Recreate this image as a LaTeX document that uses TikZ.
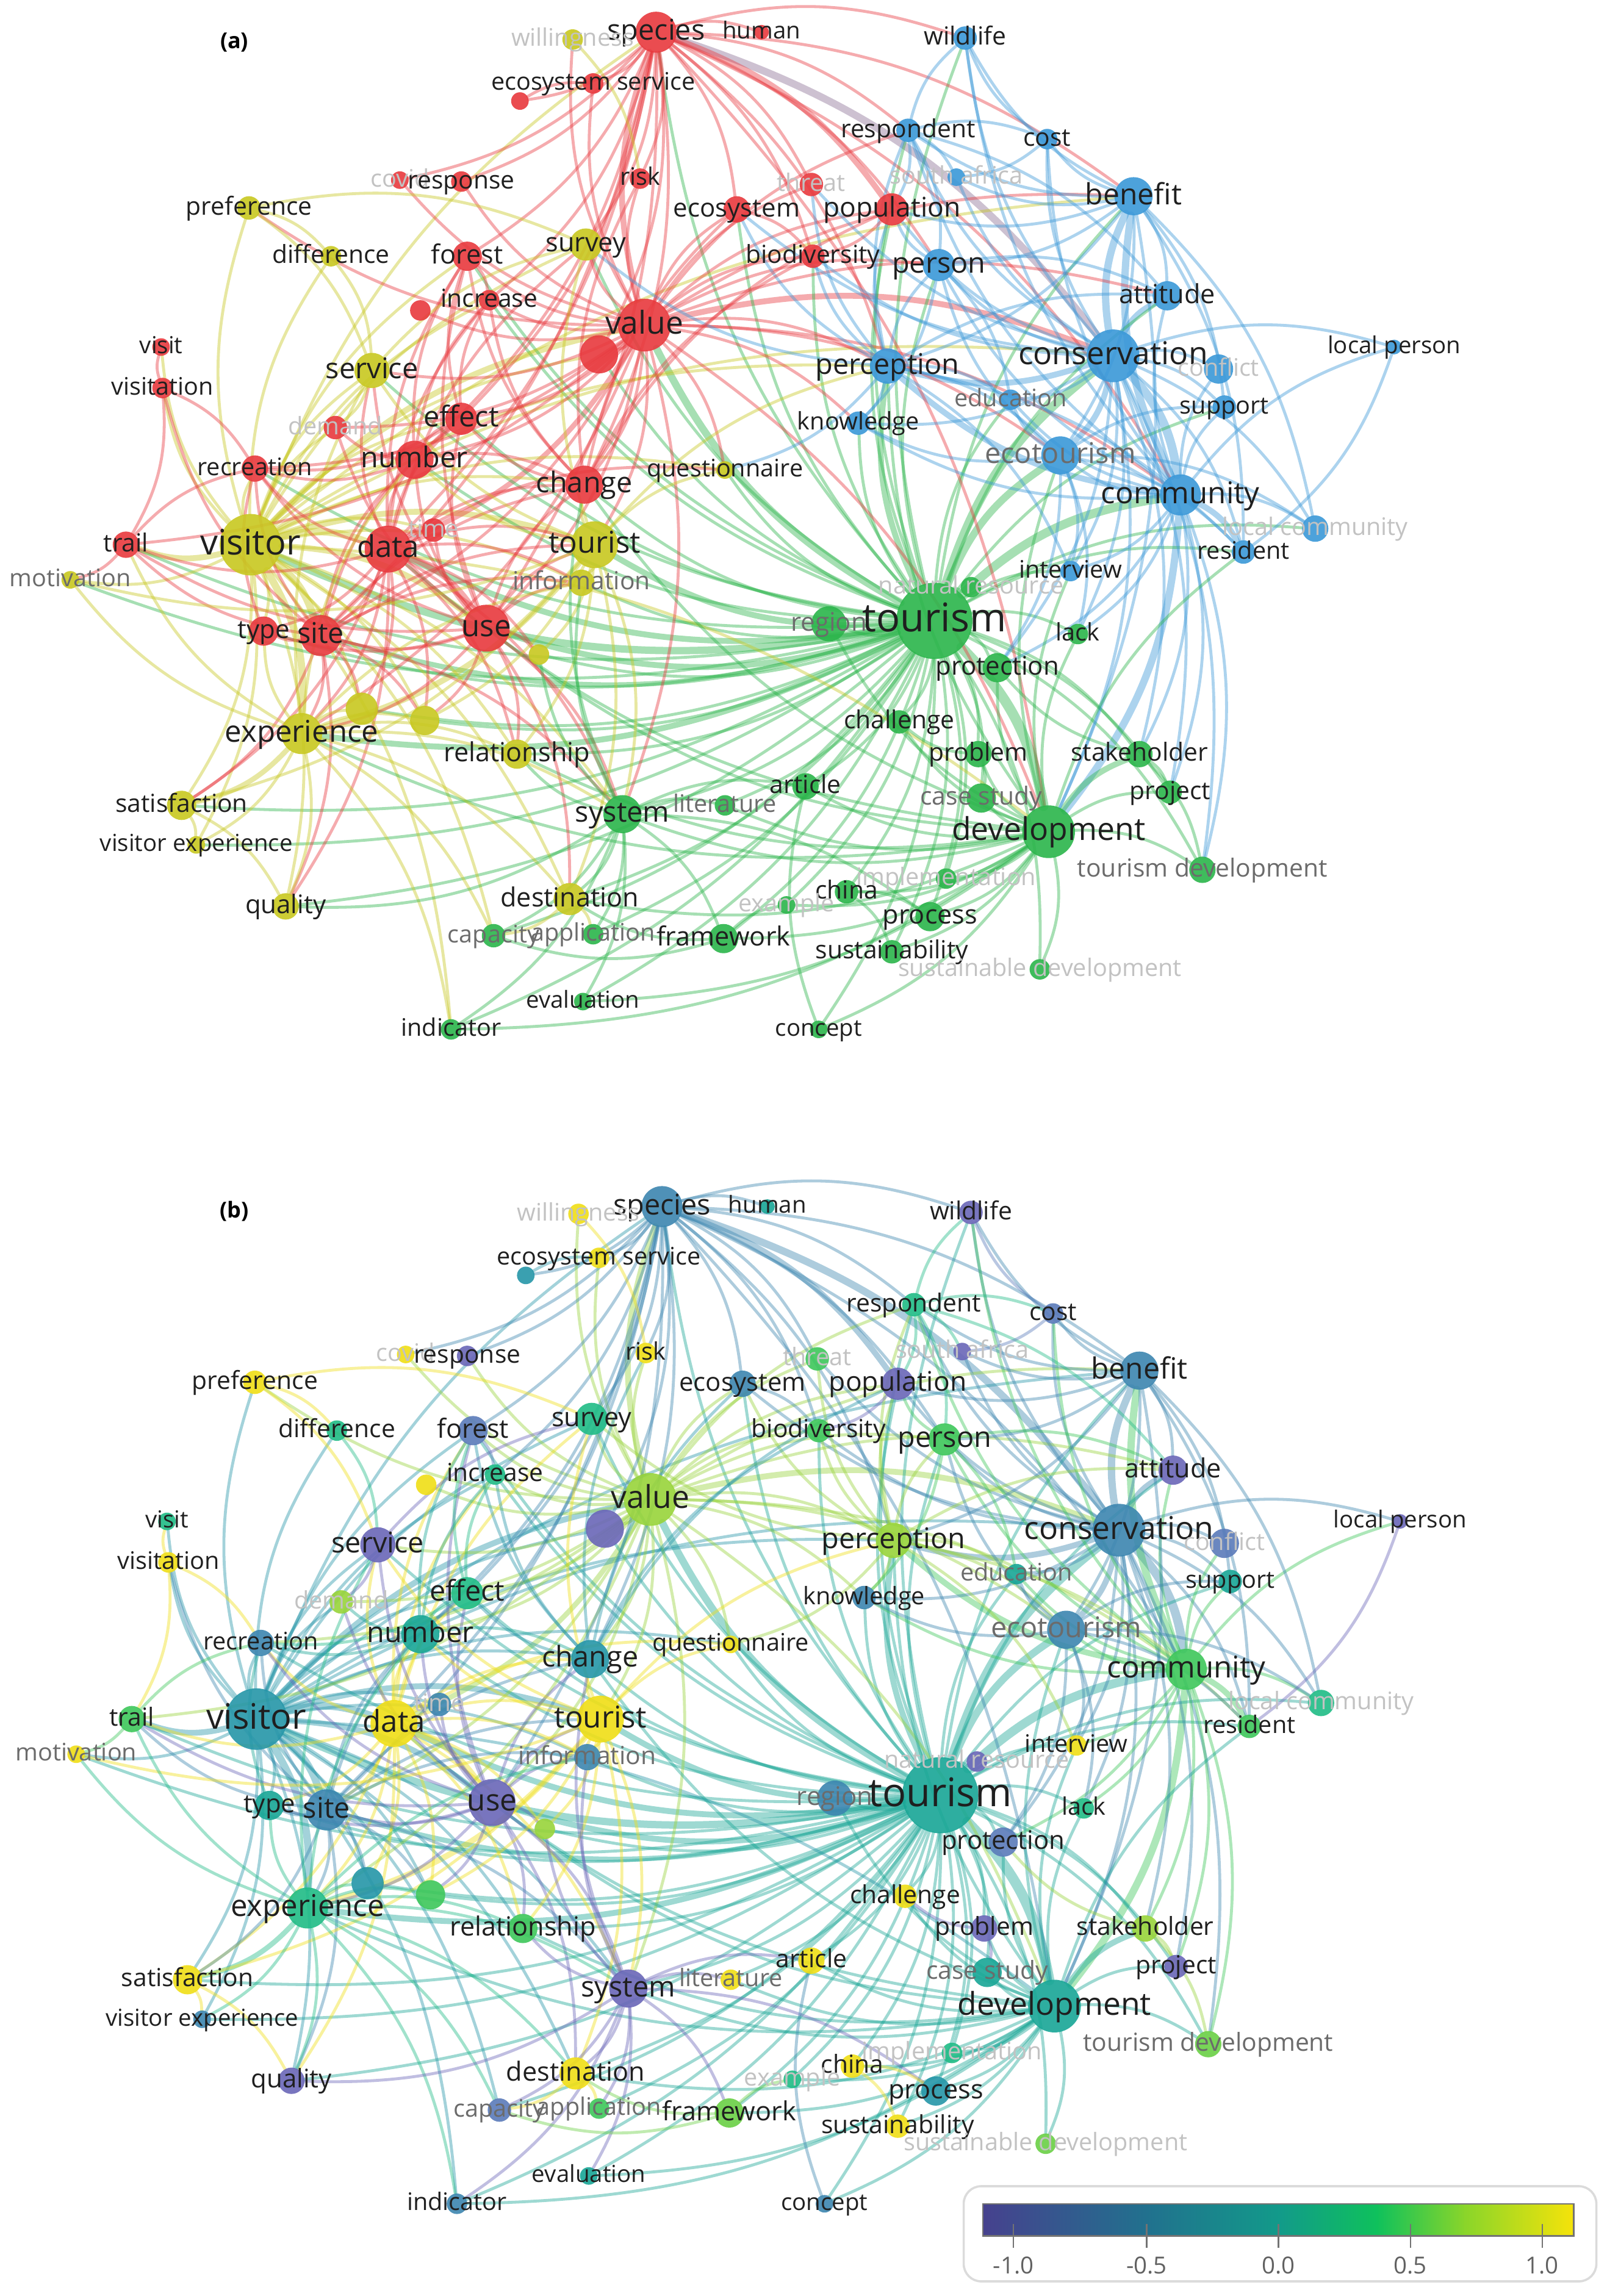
\documentclass[tikz,border=0pt]{standalone}
\usepackage{fontspec}
\setmainfont{Open Sans}
\definecolor{cR}{HTML}{E8393E}
\definecolor{cG}{HTML}{2BB54B}
\definecolor{cBl}{HTML}{3A98D8}
\definecolor{cY}{HTML}{C8C820}
\definecolor{vP}{HTML}{6A66B8}
\definecolor{vPB}{HTML}{5A7BBA}
\definecolor{vB}{HTML}{3C86B0}
\definecolor{vTB}{HTML}{2596A8}
\definecolor{vT}{HTML}{18A696}
\definecolor{vTG}{HTML}{20BC86}
\definecolor{vG}{HTML}{3DC75A}
\definecolor{vLG}{HTML}{6AD045}
\definecolor{vYG}{HTML}{98D43A}
\definecolor{vY}{HTML}{F0DE16}
\definecolor{lg1}{HTML}{46418E}
\definecolor{lg2}{HTML}{21718E}
\definecolor{lg3}{HTML}{129A8A}
\definecolor{lg4}{HTML}{0FC15C}
\definecolor{lg5}{HTML}{8AD52A}
\definecolor{lg6}{HTML}{F5E30A}
\tikzset{
 lnk/.style={line width=2, opacity=.42, line cap=round, bend left=17},
 lbl/.style={inner sep=0pt, anchor=base},
 anc/.style={circle, inner sep=0pt, outer sep=0pt},
}
% id/x/y/r/colour(a)/colour(b)/label/size/grey
\def\NL{%
species/448/22/14/cR/vB/species/19.5/0,%
human/520/22/5/cR/vT/human/16/0,%
willingness/391/27/7/cY/vY/willingness/16.5/2,%
ecoserv/405/57/7/cR/vY/ecosystem service/16.5/0,%
u355/355/69/6/cR/vTB/{}/16/0,%
wildlife/659/26/8/cBl/vP/wildlife/17/0,%
respondent/620/89/8/cBl/vTG/respondent/17/0,%
cost/715/95/7/cBl/vPB/cost/17/0,%
covid/273/123/6/cR/vY/covid/16.5/2,%
response/315/124/7/cR/vP/response/17/0,%
risk/437/122/7/cR/vY/risk/16.5/0,%
threat/554/126/8/cR/vG/threat/16.5/2,%
southafrica/653/121/6/cBl/vP/south africa/16.5/2,%
benefit/774/134/13/cBl/vB/benefit/20/0,%
preference/170/142/8/cY/vY/preference/17/0,%
ecosystem/503/143/9/cR/vB/ecosystem/17.5/0,%
population/609/143/11/cR/vP/population/18.5/0,%
survey/400/167/11/cY/vTG/survey/18/0,%
difference/226/175/7/cY/vTG/difference/17/0,%
forest/319/175/10/cR/vPB/forest/18/0,%
biodiversity/555/175/8/cR/vG/biodiversity/17/0,%
person/641/181/11/cBl/vG/person/19.5/0,%
attitude/797/202/10/cBl/vP/attitude/18/0,%
increase/334/205/7/cR/vTG/increase/17/0,%
u287/287/212/7/cR/vY/{}/16/0,%
value/440/222/18/cR/vYG/value/21.5/0,%
visit/110/237/6/cR/vTG/visit/16/0,%
localperson/952/237/5/cBl/vP/local person/16/0,%
u409/409/242/13/cR/vP/{}/16/0,%
conservation/760/243/18/cBl/vB/conservation/21.5/0,%
perception/606/250/12/cBl/vYG/perception/19.5/0,%
conflict/832/252/10/cBl/vPB/conflict/16.5/2,%
service/254/253/12/cY/vP/service/19.5/0,%
visitation/111/265/7/cR/vY/visitation/16.5/0,%
education/690/273/7/cBl/vT/education/16.5/1,%
support/836/278/8/cBl/vT/support/16.5/0,%
effect/315/286/11/cR/vTG/effect/19.5/0,%
knowledge/586/289/8/cBl/vB/knowledge/16.5/0,%
demand/229/292/8/cR/vYG/demand/16.5/2,%
ecotourism/724/311/13/cBl/vB/ecotourism/19.5/1,%
number/283/314/13/cR/vT/number/19.5/0,%
recreation/174/320/9/cR/vB/recreation/16.5/0,%
questionnaire/495/321/6/cY/vY/questionnaire/16.5/0,%
change/399/331/13/cR/vTB/change/19.5/0,%
community/806/338/14/cBl/vG/community/20.5/0,%
localcomm/898/361/9/cBl/vTG/local community/16.5/2,%
time/296/362/8/cR/vB/time/16.5/2,%
trail/86/372/9/cR/vG/trail/17/0,%
visitor/171/372/21/cY/vTB/visitor/24/0,%
data/265/375/16/cR/vY/data/20.5/0,%
tourist/406/372/16/cY/vY/tourist/20.5/0,%
resident/849/377/8/cBl/vG/resident/16.5/0,%
interview/731/390/7/cBl/vY/interview/16.5/0,%
motivation/48/396/6/cY/vY/motivation/16.5/1,%
information/397/398/9/cY/vB/information/17/1,%
natres/663/401/7/cG/vP/natural resource/16.5/2,%
use/332/429/16/cR/vP/use/20.5/0,%
type/180/431/10/cR/vT/type/17.5/0,%
site/219/434/14/cR/vB/site/19.5/0,%
region/566/426/12/cG/vB/region/17.5/1,%
tourism/638/424/26/cG/vT/tourism/27/0,%
lack/736/433/7/cG/vTG/lack/16.5/0,%
u368/368/447/7/cY/vYG/{}/16/0,%
protection/681/456/10/cG/vPB/protection/17.5/0,%
u247/247/484/11/cY/vTB/{}/16/0,%
u290/290/492/10/cY/vG/{}/16/0,%
challenge/614/493/8/cG/vY/challenge/17/0,%
experience/206/501/14/cY/vTG/experience/20.5/0,%
relationship/353/515/10/cY/vG/relationship/18/0,%
problem/668/515/9/cG/vP/problem/17/0,%
stakeholder/778/515/9/cG/vYG/stakeholder/17/0,%
article/550/537/9/cG/vY/article/17/0,%
project/799/541/8/cG/vP/project/17/0,%
casestudy/670/545/10/cG/vT/case study/17/1,%
satisfaction/124/550/10/cY/vY/satisfaction/17/0,%
literature/495/550/7/cG/vY/literature/16.5/1,%
system/425/556/13/cG/vP/system/19.5/0,%
development/716/568/18/cG/vT/development/21.5/0,%
visitorexp/134/577/6/cY/vB/visitor experience/16/0,%
tourismdev/821/594/9/cG/vLG/tourism development/17/1,%
implementation/646/600/7/cG/vTG/implementation/16.5/2,%
china/578/609/8/cG/vY/china/17/0,%
destination/389/614/11/cY/vY/destination/18/0,%
example/537/618/6/cG/vTG/example/16.5/2,%
quality/195/619/9/cY/vP/quality/17.5/0,%
process/635/626/10/cG/vTB/process/18/0,%
application/405/638/7/cG/vG/application/16.5/1,%
capacity/337/639/8/cG/vPB/capacity/16.5/1,%
framework/494/641/10/cG/vLG/framework/18/0,%
sustainability/609/650/8/cG/vY/sustainability/17/0,%
sustdev/710/662/7/cG/vLG/sustainable development/16.5/2,%
evaluation/398/684/6/cG/vT/evaluation/16/0,%
indicator/308/703/7/cG/vB/indicator/16.5/0,%
concept/559/703/6/cG/vB/concept/16/0}
% thick links: from/to/width/colour(a)/colour(b)
\def\TL{%
tourism/development/7/cG/vT,tourism/conservation/6/cG/vT,tourism/community/6/cG/vT,%
tourism/visitor/5/cG/vT,tourism/value/5/cG/vT,tourism/ecotourism/5/cG/vT,%
tourism/data/4/cG/vT,tourism/use/4/cG/vT,tourism/site/3.5/cG/vT,%
tourism/perception/4/cG/vT,tourism/experience/4/cG/vT,tourism/tourist/4/cG/vT,%
conservation/community/6/cBl/vB,conservation/benefit/5/cBl/vB,conservation/ecotourism/4/cBl/vB,%
conservation/perception/4/cBl/vB,conservation/attitude/4/cBl/vB,%
community/benefit/5/cBl/vG,community/development/5/cBl/vG,community/resident/4/cBl/vG,%
community/perception/4/cBl/vG,%
visitor/data/5/cY/vTB,visitor/site/5/cY/vTB,visitor/use/4/cY/vTB,visitor/experience/5/cY/vTB,%
visitor/trail/4/cY/vTB,visitor/value/4/cY/vTB,visitor/tourist/4/cY/vTB,%
value/species/4/cR/vYG,value/data/3.5/cR/vYG,value/conservation/4/cR/vYG,%
data/use/4/cR/vY,development/stakeholder/4/cG/vT,species/conservation/5/cR!45!cBl/vB,%
species/population/4/cR/vB,tourist/experience/4/cY/vY,experience/satisfaction/3.5/cY/vTG}
% other links: from/to/colour(a)/colour(b)
\def\ML{%
preference/difference/cY/vY,preference/service/cY/vY,preference/survey/cY/vY,difference/service/cY/vTG,%
visitation/visit/cR/vY,visitation/recreation/cR/vY,visitation/trail/cR/vY,willingness/risk/cY/vY,%
number/effect/cR/vT,number/change/cR/vT,number/recreation/cR/vT,number/increase/cR/vT,%
number/forest/cR/vT,number/demand/cR/vT,change/effect/cR/vTB,change/increase/cR/vTB,%
change/forest/cR/vTB,change/population/cR/vTB,change/biodiversity/cR/vTB,change/ecosystem/cR/vTB,%
change/risk/cR/vTB,effect/increase/cR/vTG,effect/forest/cR/vTG,effect/recreation/cR/vTG,%
ecotourism/education/cBl/vB,ecotourism/knowledge/cBl/vB,ecotourism/person/cBl/vB,%
ecotourism/interview/cBl/vB,ecotourism/resident/cBl/vB,ecotourism/localcomm/cBl/vB,%
ecotourism/support/cBl/vB,ecotourism/lack/cBl/vB,ecotourism/protection/cBl/vB,%
localperson/resident/cBl/vP,respondent/wildlife/cBl/vTG,respondent/cost/cBl/vTG,%
respondent/person/cBl/vTG,respondent/population/cBl/vTG,respondent/southafrica/cBl/vTG,%
respondent/attitude/cBl/vTG,cost/wildlife/cBl/vPB,cost/southafrica/cBl/vPB,%
person/attitude/cBl/vG,person/knowledge/cBl/vG,person/education/cBl/vG,person/population/cBl/vG,%
stakeholder/project/cG/vYG,stakeholder/tourismdev/cG/vYG,stakeholder/protection/cG/vYG,%
problem/casestudy/cG/vP,problem/challenge/cG/vP,china/process/cG/vY,china/sustainability/cG/vY,%
framework/example/cG/vLG,framework/destination/cG/vLG,framework/capacity/cG/vLG,%
concept/article/cG/vB,satisfaction/visitorexp/cY/vY,satisfaction/quality/cY/vY,%
destination/capacity/cY/vY,destination/application/cY/vY,service/survey/cY/vP,%
service/demand/cY/vP,forest/increase/cR/vPB,ecosystem/biodiversity/cR/vB,%
population/biodiversity/cR/vP,trail/motivation/cR/vG,trail/recreation/cR/vG,%
type/recreation/cR/vT,u355/ecoserv/cR/vTB}
\newcommand\hub[4]{%
  \ifnum\pnum=1 \def\ecol{#2}\else\def\ecol{#3}\fi
  \foreach \tg in {#4}{\draw[lnk,draw=\ecol] (\pp-#1) to (\pp-\tg);}%
}
\newcommand\drawpanel[1]{%
 \def\pnum{#1}%
 \ifnum#1=1 \def\pp{A}\else\def\pp{B}\fi
 \foreach \id/\x/\y/\rr/\ca/\cb/\lab/\fs/\gr in \NL {\node[anc,minimum size=2*\rr] (\pp-\id) at (\x,\y) {};}
 \foreach \nA/\nB/\w/\ca/\cb in \TL {\ifnum\pnum=1 \let\ecol\ca\else\let\ecol\cb\fi
   \draw[lnk,draw=\ecol,line width=\w] (\pp-\nA) to (\pp-\nB);}
 \hub{tourism}{cG}{vT}{region,natres,lack,protection,challenge,problem,stakeholder,project,article,literature,casestudy,tourismdev,implementation,china,example,process,sustainability,sustdev,framework,capacity,application,evaluation,indicator,concept,system,destination,relationship,quality,satisfaction,type,trail,recreation,number,effect,service,change,survey,information,questionnaire,forest,increase,person,knowledge,education,resident,interview,benefit,attitude,support,localcomm,respondent,population,ecosystem,biodiversity,species,wildlife,u368,u247,u290,u409,motivation,visitorexp}
 \hub{visitor}{cY}{vTB}{motivation,type,satisfaction,visitorexp,quality,recreation,number,effect,service,demand,information,change,time,preference,difference,visitation,visit,relationship,destination,system,survey,forest,species,u247,u290,capacity,indicator,benefit,perception,development,conservation,increase,questionnaire,u409}
 \hub{value}{cR}{vYG}{ecoserv,risk,response,forest,increase,survey,biodiversity,ecosystem,population,threat,service,effect,number,change,use,site,tourist,questionnaire,perception,person,benefit,respondent,willingness,preference,demand,recreation,development,community,ecotourism,attitude,knowledge,covid,u287,u409,trail,experience,system}
 \hub{species}{cR}{vB}{human,ecoserv,u355,risk,ecosystem,threat,biodiversity,forest,response,change,number,data,use,site,person,wildlife,respondent,perception,benefit,community,effect,increase,development,covid,u409,survey}
 \hub{conservation}{cBl}{vB}{person,education,knowledge,support,conflict,localperson,localcomm,resident,respondent,wildlife,cost,southafrica,population,biodiversity,interview,development,protection,stakeholder,project,tourismdev,lack,threat,ecosystem}
 \hub{community}{cBl}{vG}{attitude,support,conflict,localcomm,ecotourism,person,respondent,cost,interview,stakeholder,project,tourismdev,lack,protection,education,wildlife,localperson,knowledge}
 \hub{benefit}{cBl}{vB}{wildlife,cost,respondent,southafrica,person,attitude,support,ecotourism,perception,resident,localcomm,development,population}
 \hub{development}{cG}{vT}{protection,challenge,problem,casestudy,tourismdev,implementation,china,process,sustainability,sustdev,framework,article,system,region,concept,example,literature,destination,indicator,evaluation,lack,resident,ecotourism,perception,experience,relationship,use,data,change,project,interview}
 \hub{data}{cR}{vY}{trail,site,type,number,effect,change,time,tourist,information,recreation,experience,survey,service,relationship,system,quality,questionnaire,forest,increase,u247,u290,u368,satisfaction}
 \hub{use}{cR}{vP}{site,type,number,effect,change,tourist,information,recreation,experience,relationship,system,destination,trail,service,demand,u368,forest,time,u290}
 \hub{site}{cR}{vB}{type,trail,recreation,number,effect,experience,satisfaction,quality,u247,u290,change,tourist,information,system,visitation}
 \hub{tourist}{cY}{vY}{satisfaction,destination,information,relationship,change,number,service,survey,questionnaire,perception,system,u368,motivation,u290}
 \hub{experience}{cY}{vTG}{visitorexp,quality,relationship,u247,u290,service,destination,system,number,type,motivation,trail,information,capacity,indicator}
 \hub{system}{cG}{vP}{destination,literature,framework,indicator,evaluation,application,capacity,relationship,information,change,process,article,u368,quality}
 \hub{perception}{cBl}{vYG}{person,knowledge,education,attitude,respondent,population,ecotourism,resident,interview,questionnaire,survey,biodiversity,ecosystem,threat}
 \foreach \nA/\nB/\ca/\cb in \ML {\ifnum\pnum=1 \let\ecol\ca\else\let\ecol\cb\fi
   \draw[lnk,draw=\ecol] (\pp-\nA) to (\pp-\nB);}
 \foreach \id/\x/\y/\rr/\ca/\cb/\lab/\fs/\gr in \NL {\ifnum\pnum=1 \let\col\ca\else\let\col\cb\fi
   \fill[fill=\col,opacity=.9] (\x,\y) circle[radius=\rr];}
 \foreach \id/\x/\y/\rr/\ca/\cb/\lab/\fs/\gr in \NL {%
   \ifcase\gr \def\tc{black!88}\or\def\tc{black!58}\or\def\tc{black!24}\fi
   \node[lbl,text=\tc,font=\fontsize{\fs}{\fs}\selectfont] (\pp-\id-t) at ({\x},{\y+0.28*\fs}) {\lab};}
}
\begin{document}
\begin{tikzpicture}[x=1pt,y=-1pt]
\useasboundingbox (0,0) rectangle (1097,1568);
\fill[white] (0,0) rectangle (1097,1568);
\drawpanel{1}
\begin{scope}[shift={(4,802)}]
\drawpanel{2}
\end{scope}
\node[font=\bfseries\fontsize{15}{15}\selectfont] (ta) at (160,29) {(a)};
\node[font=\bfseries\fontsize{15}{15}\selectfont] (tb) at (160,827) {(b)};
% legend
\draw[black!14, line width=1.5, rounded corners=12, fill=white] (658,1493) rectangle (1090,1558);
\shade[left color=lg1, right color=lg2] (671,1505) rectangle (783.5,1527);
\shade[left color=lg2, right color=lg3] (783,1505) rectangle (873.5,1527);
\shade[left color=lg3, right color=lg4] (873,1505) rectangle (940.5,1527);
\shade[left color=lg4, right color=lg5] (940,1505) rectangle (1000.5,1527);
\shade[left color=lg5, right color=lg6] (1000,1505) rectangle (1074.5,1527);
\draw[black!55, line width=1] (671,1505) rectangle (1074.5,1527);
\foreach \xx/\tt in {692/-1.0,783/-0.5,873/0.0,963/0.5,1053/1.0}{
  \draw[black!55, line width=1] (\xx,1519) -- (\xx,1535);
  \node[text=black!62, font=\fontsize{16}{16}\selectfont, inner sep=0pt] (leg\xx) at (\xx,1547) {\tt};
}
\end{tikzpicture}
\end{document}
